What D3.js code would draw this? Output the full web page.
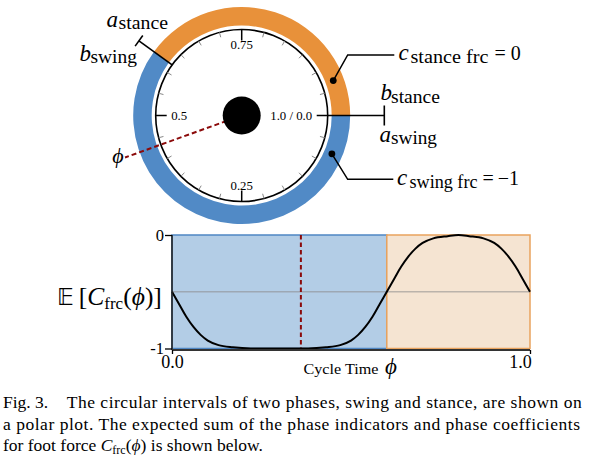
<!DOCTYPE html>
<html><head><meta charset="utf-8">
<script src="https://cdn.jsdelivr.net/npm/d3@7"></script>
<style>
html,body{margin:0;padding:0;background:#fff;}
svg{display:block;}
</style></head>
<body>
<script>
// ---------- data ----------
const phaseNames = ["swing", "stance"];
const phaseStart = [0.0, 0.6];
const phaseEnd = [0.6, 1.0];
const ringColors = ["#518ac6", "#e8913a"];
const fillColors = ["#b3cde6", "#f5e4d2"];
const borderColors = ["#4f86c3", "#e9a35d"];
const polarTickLabels = ["1.0 / 0.0", "0.25", "0.5", "0.75"];
const polarTickPhases = [0, 0.25, 0.5, 0.75];
const minorTickCount = 24;
const phiPolar = 0.445;
const phiLinear = 0.36;
const cMarkerPhases = [0.942, 0.064];
const curvePhase = [0.00,0.02,0.04,0.06,0.08,0.10,0.13,0.17,0.22,0.30,0.38,0.43,0.47,0.50,0.52,0.54,0.56,0.58,0.60,0.62,0.64,0.66,0.68,0.70,0.73,0.77,0.80,0.83,0.87,0.90,0.92,0.94,0.96,0.98,1.00];
const curveValue = [-0.50,-0.61,-0.72,-0.81,-0.88,-0.93,-0.97,-0.99,-1.0,-1.0,-1.0,-0.99,-0.97,-0.93,-0.88,-0.81,-0.72,-0.61,-0.50,-0.39,-0.28,-0.19,-0.12,-0.07,-0.03,-0.01,0.0,-0.01,-0.03,-0.07,-0.12,-0.19,-0.28,-0.39,-0.50];
const yTickValues = [0, -1];
const yTickLabels = ["0", "-1"];
const xTickValues = [0, 1];
const xTickLabels = ["0.0", "1.0"];
const captionLines = [
  "The circular intervals of two phases, swing and stance, are shown on",
  "a polar plot. The expected sum of the phase indicators and phase coefficients"
];

// ---------- svg ----------
const W = 609, H = 462;
const svg = d3.select("body").append("svg").attr("width", W).attr("height", H);
svg.append("rect").attr("width", W).attr("height", H).attr("fill", "#fff");

const MATH = "'Liberation Serif', 'DejaVu Serif', serif";
const CAP = "'Liberation Serif', 'Times New Roman', serif";

// ---------- polar plot ----------
const cx = 241.7, cy = 115.5;
const ang = d3.scaleLinear().domain([0, 1]).range([0, 2 * Math.PI]);
const pt = (p, r) => [cx + r * Math.cos(ang(p)), cy + r * Math.sin(ang(p))];
const polar = svg.append("g");

const arc = d3.arc().innerRadius(90).outerRadius(108.5);
phaseNames.forEach((n, i) => {
  polar.append("path")
    .attr("transform", `translate(${cx},${cy})`)
    .attr("d", arc({startAngle: ang(phaseStart[i]) + Math.PI / 2, endAngle: ang(phaseEnd[i]) + Math.PI / 2}))
    .attr("fill", ringColors[i]);
});

polar.append("circle").attr("cx", cx).attr("cy", cy).attr("r", 86)
  .attr("fill", "none").attr("stroke", "#000").attr("stroke-width", 1.6);

// ticks
d3.range(minorTickCount).map(i => i / minorTickCount).forEach(p => {
  const major = polarTickPhases.some(q => Math.abs(q - p) < 1e-9);
  const a = pt(p, major ? 75 : 81), b = pt(p, 86);
  polar.append("line").attr("x1", a[0]).attr("y1", a[1]).attr("x2", b[0]).attr("y2", b[1])
    .attr("stroke", major ? "#000" : "#888").attr("stroke-width", major ? 1.5 : 1);
});

// tick labels
polarTickPhases.forEach((p, i) => {
  const [x, y] = pt(p, 70.5);
  let anchor = "middle";
  if (Math.abs(Math.cos(ang(p))) > 0.5) anchor = Math.cos(ang(p)) > 0 ? "end" : "start";
  polar.append("text").attr("x", x).attr("y", y).attr("dy", "0.34em")
    .attr("text-anchor", anchor).attr("font-family", MATH).attr("font-size", 12.8)
    .text(polarTickLabels[i]);
});

// boundary markers
function boundary(p, r0, r1, half) {
  const a = pt(p, r0), b = pt(p, r1);
  polar.append("line").attr("x1", a[0]).attr("y1", a[1]).attr("x2", b[0]).attr("y2", b[1])
    .attr("stroke", "#000").attr("stroke-width", 1.6);
  const t = ang(p) + Math.PI / 2;
  polar.append("line")
    .attr("x1", b[0] + half * Math.cos(t)).attr("y1", b[1] + half * Math.sin(t))
    .attr("x2", b[0] - half * Math.cos(t)).attr("y2", b[1] - half * Math.sin(t))
    .attr("stroke", "#000").attr("stroke-width", 1.6);
}
boundary(phaseStart[0], 86, 142.6, 10);
boundary(phaseStart[1], 86, 127, 6.5);

// phi dashed line
{
  const b = pt(phiPolar, 124);
  polar.append("line").attr("x1", cx).attr("y1", cy).attr("x2", b[0]).attr("y2", b[1])
    .attr("stroke", "#8b0a0a").attr("stroke-width", 2).attr("stroke-dasharray", "5,3");
}
polar.append("circle").attr("cx", cx).attr("cy", cy).attr("r", 19).attr("fill", "#000");

// c markers
const elbows = [[347.7, 55, 394.3], [347.7, 179.3, 393.3]];
cMarkerPhases.forEach((p, i) => {
  const [x, y] = pt(p, 98);
  const e = elbows[i];
  polar.append("path").attr("d", `M${x},${y}L${e[0]},${e[1]}L${e[2]},${e[1]}`)
    .attr("fill", "none").attr("stroke", "#000").attr("stroke-width", 1.5);
  polar.append("circle").attr("cx", x).attr("cy", y).attr("r", 3.4).attr("fill", "#000");
});

// math labels: main italic letter, roman subscript, optional rest
function mlabel(xm, yb, main, xs, sw, sub, xr, rest) {
  svg.append("text").attr("x", xm).attr("y", yb).attr("font-family", MATH)
    .attr("font-style", "italic").attr("font-size", 23).text(main);
  svg.append("text").attr("x", xs).attr("y", yb + 2.5).attr("font-family", MATH)
    .attr("font-size", 18).attr("textLength", sw).attr("lengthAdjust", "spacingAndGlyphs").text(sub);
  if (rest) svg.append("text").attr("x", xr).attr("y", yb).attr("font-family", MATH)
    .attr("font-size", 20).text(rest);
}
mlabel(106.5, 26.5, "a", 118.5, 49.5, "stance");
mlabel(79.5, 60.5, "b", 90.5, 46.5, "swing");
mlabel(380.5, 100, "b", 391, 49, "stance");
mlabel(379.5, 141.5, "a", 391, 46, "swing");
mlabel(398.5, 60, "c", 410.5, 78, "stance frc", 494.5, "= 0");
mlabel(397, 185, "c", 409.5, 68, "swing frc", 482.5, "=\u2009\u22121");
svg.append("text").attr("x", 118).attr("y", 163).attr("text-anchor", "middle")
  .attr("font-family", MATH).attr("font-style", "italic").attr("font-size", 22).text("\u03D5");

// ---------- line chart ----------
const x = d3.scaleLinear().domain([0, 1]).range([172, 530]);
const y = d3.scaleLinear().domain([-1, 0]).range([348.5, 235]);
const chart = svg.append("g");

phaseNames.forEach((n, i) => {
  chart.append("rect").attr("x", x(phaseStart[i])).attr("y", y(0))
    .attr("width", x(phaseEnd[i]) - x(phaseStart[i])).attr("height", y(-1) - y(0))
    .attr("fill", fillColors[i]).attr("stroke", borderColors[i]).attr("stroke-width", 1.5);
});
chart.append("line").attr("x1", x(0)).attr("x2", x(1)).attr("y1", y(-0.5)).attr("y2", y(-0.5))
  .attr("stroke", "#8a8a8a").attr("stroke-opacity", 0.55).attr("stroke-width", 1.5);
chart.append("line").attr("x1", x(phiLinear)).attr("x2", x(phiLinear)).attr("y1", y(0)).attr("y2", 350)
  .attr("stroke", "#8b0a0a").attr("stroke-width", 2).attr("stroke-dasharray", "4.5,3");

const line = d3.line().x((d, i) => x(curvePhase[i])).y(d => y(d)).curve(d3.curveMonotoneX);
chart.append("path").attr("d", line(curveValue)).attr("fill", "none").attr("stroke", "#000").attr("stroke-width", 2);

// axes
const yAxis = d3.axisLeft(y).tickValues(yTickValues).tickFormat((d, i) => yTickLabels[i]).tickSize(7).tickPadding(1);
const gy = chart.append("g").attr("transform", `translate(${x(0)},0)`).call(yAxis);
gy.select(".domain").attr("stroke", "#222").attr("stroke-width", 1.6).attr("d", `M0,${y(0)}V350`);
gy.selectAll("text").attr("font-family", MATH).attr("font-size", 16.5);
gy.selectAll("line").attr("stroke-width", 1.3);

const xAxis = d3.axisBottom(x).tickValues(xTickValues).tickFormat((d, i) => xTickLabels[i]).tickSize(4).tickPadding(1);
const gx = chart.append("g").attr("transform", "translate(0,350)").call(xAxis);
gx.select(".domain").attr("stroke", "#333").attr("stroke-width", 2.2).attr("d", `M${x(0)},0H${x(1)}`);
gx.selectAll("text").attr("font-family", MATH).attr("font-size", 18);
gx.selectAll(".tick").filter(d => d === 1).select("text").attr("dx", -10);
gx.selectAll("line").attr("stroke-width", 1.3);

// axis titles
svg.append("text").attr("x", 303.5).attr("y", 374).attr("font-family", MATH).attr("font-size", 15)
  .attr("textLength", 75).attr("lengthAdjust", "spacingAndGlyphs").text("Cycle Time");
svg.append("text").attr("x", 385).attr("y", 374).attr("font-family", MATH).attr("font-style", "italic")
  .attr("font-size", 23).text("\u03D5");

const yt = svg.append("text").attr("x", 57).attr("y", 305).attr("font-family", MATH).attr("font-size", 25.5);
yt.append("tspan").attr("font-family", "'DejaVu Sans'").attr("font-size", 23).text("\uD835\uDD3C");
yt.append("tspan").attr("dx", 5).text("[");
yt.append("tspan").attr("font-style", "italic").text("C");
yt.append("tspan").attr("font-size", 17).attr("dy", 4).text("frc");
yt.append("tspan").attr("dy", -4).text("(");
yt.append("tspan").attr("font-style", "italic").text("\u03D5");
yt.append("tspan").text(")]");

// ---------- caption ----------
const capSize = 17.5;
svg.append("text").attr("x", 3).attr("y", 408.3).attr("font-family", CAP).attr("font-size", capSize).text("Fig. 3.");
svg.append("text").attr("x", 66.7).attr("y", 408.3).attr("font-family", CAP).attr("font-size", capSize)
  .attr("textLength", 515).attr("lengthAdjust", "spacing").text(captionLines[0]);
svg.append("text").attr("x", 3).attr("y", 429.8).attr("font-family", CAP).attr("font-size", capSize)
  .attr("textLength", 577).attr("lengthAdjust", "spacing").text(captionLines[1]);
const c3 = svg.append("text").attr("x", 3).attr("y", 451.2).attr("font-family", CAP).attr("font-size", capSize);
c3.append("tspan").text("for foot force ");
c3.append("tspan").attr("font-style", "italic").text("C");
c3.append("tspan").attr("font-size", 12).attr("dy", 3).text("frc");
c3.append("tspan").attr("dy", -3).text("(");
c3.append("tspan").attr("font-style", "italic").text("\u03D5");
c3.append("tspan").text(") is shown below.");
</script>
</body></html>
